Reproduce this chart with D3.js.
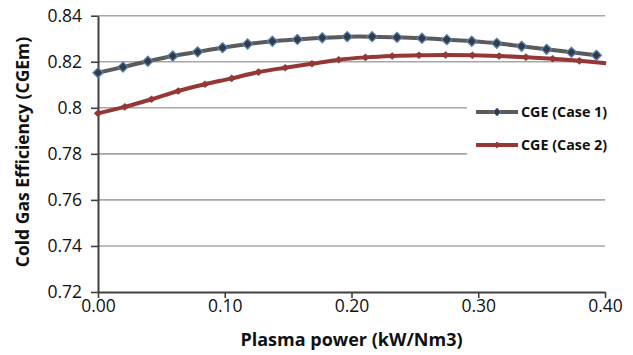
<!DOCTYPE html>
<html><head><meta charset="utf-8">
<script src="https://cdn.jsdelivr.net/npm/d3@7"></script>
<style>body{margin:0;background:#fff}svg{display:block}</style>
</head><body>
<svg id="c" width="633" height="355"></svg>
<script>
const xCase1 = [0,0.0197,0.0393,0.059,0.0786,0.0983,0.118,0.1376,0.1573,0.1769,0.1966,0.2163,0.2359,0.2556,0.2752,0.2949,0.3146,0.3342,0.3539,0.3735,0.3932];
const yCase1 = [0.8152,0.8177,0.8202,0.8225,0.8243,0.8261,0.8277,0.8289,0.8297,0.8304,0.8309,0.8309,0.8306,0.8302,0.8296,0.8289,0.8280,0.8267,0.8254,0.8241,0.8228];
const xCase2 = [0,0.0211,0.0422,0.0633,0.0844,0.1055,0.1266,0.1477,0.1688,0.1899,0.211,0.2321,0.2532,0.2743,0.2954,0.3165,0.3376,0.3587,0.3798,0.4009];
const yCase2 = [0.7976,0.8004,0.8037,0.8073,0.8102,0.8128,0.8155,0.8174,0.8191,0.8209,0.8219,0.8225,0.8228,0.8229,0.8228,0.8225,0.8220,0.8213,0.8204,0.8193];
const seriesNames = ["CGE (Case 1)","CGE (Case 2)"];
const xTicks = [0,0.1,0.2,0.3,0.4];
const yTicks = [0.72,0.74,0.76,0.78,0.8,0.82,0.84];
const xTitle = "Plasma power (kW/Nm3)";
const yTitle = "Cold Gas Efficiency (CGEm)";

const svg = d3.select("#c");
const font = "'Open Sans', sans-serif";
const L = 98, R = 605, T = 15.7, B = 292;
const x = d3.scaleLinear().domain([0,0.4]).range([L,R]);
const y = d3.scaleLinear().domain([0.72,0.84]).range([B,T]);
const diamond = (w,h)=>`M0,${-h}L${w},0L0,${h}L${-w},0Z`;

// gridlines
svg.append("g").selectAll("line").data(yTicks.filter(d=>d>0.72)).join("line")
  .attr("x1",L).attr("x2",R).attr("y1",d=>y(d)).attr("y2",d=>y(d))
  .attr("stroke","#a6a6a6").attr("stroke-width",1.6);

// legend background
svg.append("rect").attr("x",467).attr("y",92).attr("width",160).attr("height",76).attr("fill","#fff");

// axes
const xAxis = d3.axisBottom(x).tickValues(xTicks).tickFormat(d3.format(".2f")).tickSizeInner(6).tickSizeOuter(0).tickPadding(3);
const gx = svg.append("g").attr("transform",`translate(0,${B})`).call(xAxis);
const yAxis = d3.axisLeft(y).tickValues(yTicks).tickFormat(d=>d===0.8?"0.8":d3.format(".2f")(d)).tickSizeInner(7).tickSizeOuter(0).tickPadding(9);
const gy = svg.append("g").attr("transform",`translate(${L},0)`).call(yAxis);
[gx,gy].forEach(g=>{
  g.select(".domain").attr("stroke","#404040").attr("stroke-width",2);
  g.selectAll(".tick line").attr("stroke","#404040").attr("stroke-width",1.6);
  g.selectAll("text").attr("font-family",font).attr("font-size",17.5).attr("fill","#111");
});
gx.selectAll("text").attr("dy","0.6em");
gy.selectAll("text").attr("dy","0.34em");

// clip
svg.append("clipPath").attr("id","clip").append("rect").attr("x",L-10).attr("y",0).attr("width",R-L+12).attr("height",B+10);

const line = d3.line().x(d=>x(d[0])).y(d=>y(d[1])).curve(d3.curveCatmullRom);
const d1 = xCase1.map((v,i)=>[v,yCase1[i]]);
const d2 = xCase2.map((v,i)=>[v,yCase2[i]]);
const plot = svg.append("g").attr("clip-path","url(#clip)");

plot.append("path").attr("d",line(d2)).attr("fill","none").attr("stroke","#953735").attr("stroke-width",4);
plot.append("g").selectAll("path").data(d2.filter(d=>d[0]<=0.4)).join("path")
  .attr("d",diamond(4.2,3.8)).attr("transform",d=>`translate(${x(d[0])},${y(d[1])})`)
  .attr("fill","#953735");

plot.append("path").attr("d",line(d1)).attr("fill","none").attr("stroke","#5b5b5b").attr("stroke-width",4);
plot.append("g").selectAll("path").data(d1).join("path")
  .attr("d",diamond(5,5)).attr("transform",d=>`translate(${x(d[0])},${y(d[1])})`)
  .attr("fill","#3a3a3a").attr("stroke","#4f81bd").attr("stroke-width",1.3);

// legend
const leg = svg.append("g");
const legY = [112,145];
const colors = ["#5b5b5b","#953735"];
seriesNames.forEach((n,i)=>{
  leg.append("line").attr("x1",476).attr("x2",518).attr("y1",legY[i]).attr("y2",legY[i]).attr("stroke",colors[i]).attr("stroke-width",4);
  const m = leg.append("path").attr("transform",`translate(497,${legY[i]})`);
  if(i===0) m.attr("d",diamond(4,4)).attr("fill","#3a3a3a").attr("stroke","#4f81bd").attr("stroke-width",1);
  else m.attr("d",diamond(3.5,3.5)).attr("fill","#953735");
  leg.append("text").attr("x",521).attr("y",legY[i]).attr("dy","0.35em")
    .attr("font-family",font).attr("font-weight","bold").attr("font-size",14.3).attr("fill","#111").text(n);
});

// titles
svg.append("text").attr("x",(L+R)/2).attr("y",346).attr("text-anchor","middle")
  .attr("font-family",font).attr("font-weight","bold").attr("font-size",18).attr("fill","#111").text(xTitle);
svg.append("text").attr("transform","translate(29,152) rotate(-90)").attr("text-anchor","middle")
  .attr("font-family",font).attr("font-weight","bold").attr("font-size",17.5).attr("fill","#111").text(yTitle);
</script>
</body></html>
